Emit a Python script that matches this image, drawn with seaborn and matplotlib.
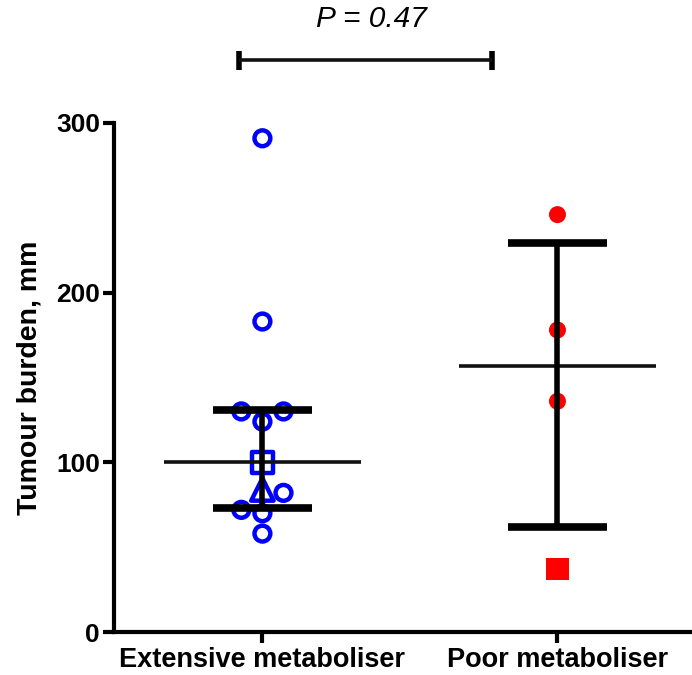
import numpy as np
import pandas as pd
import matplotlib
matplotlib.use("Agg")
import matplotlib.pyplot as plt
import seaborn as sns

sns.set_theme(style="ticks")
plt.rcParams['font.family'] = ['Liberation Sans', 'DejaVu Sans']
plt.rcParams['text.color'] = 'black'
plt.rcParams['axes.labelcolor'] = 'black'
plt.rcParams['xtick.color'] = 'black'
plt.rcParams['ytick.color'] = 'black'

# Data
categories = ["Extensive metaboliser", "Poor metaboliser"]
ext_values = [291, 183, 130, 130, 124, 100, 84, 82, 72, 70, 58]
ext_shapes = ["o", "o", "o", "o", "o", "s", "^", "o", "o", "o", "o"]
ext_offsets = [0, 0, -1, 1, 0, 0, 0, 1, -1, 0, 0]
poor_values = [246, 178, 136, 37]
poor_shapes = ["o", "o", "o", "s"]
poor_offsets = [0, 0, 0, 0]
centre_values = [100, 157]
bar_low = [73, 62]
bar_high = [131, 229]
p_text = "P = 0.47"
yticks = [0, 100, 200, 300]

rows = []
for v, s, o in zip(ext_values, ext_shapes, ext_offsets):
    rows.append(dict(group=categories[0], gi=0, value=v, shape=s, off=o))
for v, s, o in zip(poor_values, poor_shapes, poor_offsets):
    rows.append(dict(group=categories[1], gi=1, value=v, shape=s, off=o))
df = pd.DataFrame(rows)
df["x"] = df["gi"] + df["off"] * 0.0714

fig = plt.figure(figsize=(6.92, 6.75), dpi=100)
ax = fig.add_axes([114/692, 43/675, 578/692, 509/675])

# Extensive: open blue markers
ext = df[df.gi == 0]
for shape, sub in ext.groupby("shape"):
    size = {"o": 130, "s": 230, "^": 260}[shape]
    sns.scatterplot(data=sub, x="x", y="value", marker=shape, s=size,
                    facecolors="none", edgecolor="#0000ff", linewidth=3.2,
                    ax=ax, zorder=3, legend=False)
poor = df[df.gi == 1]
for shape, sub in poor.groupby("shape"):
    size = {"o": 150, "s": 260}[shape]
    sns.scatterplot(data=sub, x="x", y="value", marker=shape, s=size,
                    color="#ff0000", edgecolor="none", linewidth=0,
                    ax=ax, zorder=3, legend=False)

# central lines (median/mean) and error bars
for i in range(2):
    ax.plot([i - 0.335, i + 0.335], [centre_values[i]] * 2, color="#111111",
            lw=2.6, zorder=4, solid_capstyle="butt")
    ax.plot([i, i], [bar_low[i], bar_high[i]], color="black", lw=4, zorder=4,
            solid_capstyle="butt")
    for yv in (bar_low[i], bar_high[i]):
        ax.plot([i - 0.168, i + 0.168], [yv, yv], color="black", lw=5.5,
                zorder=4, solid_capstyle="butt")

ax.set_xlim(-0.503, 1.456)
ax.set_ylim(0, 300)
ax.set_xticks([0, 1])
ax.set_xticklabels(categories, fontsize=19.5, fontweight="bold")
ax.set_yticks(yticks)
ax.set_yticklabels([str(t) for t in yticks], fontsize=19, fontweight="bold")
ax.set_xlabel("")
ax.set_ylabel("Tumour burden, mm", fontsize=20.5, fontweight="bold", labelpad=10)
ax.tick_params(axis="both", width=3, length=8, direction="out", color="black")
ax.tick_params(axis="y", pad=2)
ax.tick_params(axis="x", pad=3)
for sp in ["top", "right"]:
    ax.spines[sp].set_visible(False)
for sp in ["left", "bottom"]:
    ax.spines[sp].set_linewidth(3)
    ax.spines[sp].set_color("black")

# significance bracket above plot
yb = 337
ax.plot([-0.078, 0.779], [yb, yb], color="#111111", lw=2.6,
        clip_on=False, zorder=5, solid_capstyle="butt")
for xe in (-0.078, 0.779):
    ax.plot([xe, xe], [yb - 5.5, yb + 5.5], color="black", lw=4, clip_on=False,
            solid_capstyle="butt")
ax.text(0.37, 353, p_text, ha="center", va="bottom", fontsize=21.5,
        style="italic", clip_on=False)

fig.savefig("out.png", dpi=100)
